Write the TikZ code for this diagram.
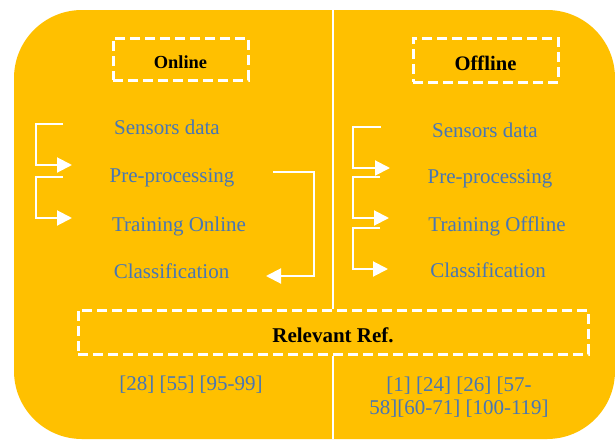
\documentclass[tikz,border=0pt]{standalone}
\usepackage{fontspec}
\setmainfont{Liberation Serif}
\usetikzlibrary{arrows.meta}
\definecolor{panel}{HTML}{FFC000}
\definecolor{txtblue}{HTML}{4876B4}
\tikzset{
  item/.style={text=txtblue, font=\fontsize{21}{24}\selectfont, inner sep=0pt, anchor=base},
  ref/.style={text=txtblue, font=\fontsize{21}{23}\selectfont, inner sep=0pt, align=center},
  dbox/.style={draw=white, line width=3pt, dash pattern=on 10pt off 5pt, text depth=0pt},
  flow/.style={draw=white, line width=2pt, -{Triangle[length=15pt,width=15pt]}},
  divider/.style={draw=white, line width=2pt},
}
\begin{document}
\begin{tikzpicture}[x=1pt,y=-1pt]
\useasboundingbox (0,0) rectangle (615,439);
\fill[panel, rounded corners=68pt] (14,10) rectangle (615,439);
% dashed boxes
\node[dbox, minimum width=135pt, minimum height=42pt, text height=18pt, font=\bfseries\fontsize{18.4}{20}\selectfont] (online) at (180.5,59) {Online};
\node[dbox, minimum width=145pt, minimum height=44pt, text height=20pt, font=\bfseries\fontsize{20.6}{22}\selectfont] (offline) at (485.5,60) {Offline};
\node[dbox, minimum width=510pt, minimum height=44pt, text height=20pt, font=\bfseries\fontsize{21}{23}\selectfont] (rel) at (333,332) {Relevant Ref.};
% divider
\coordinate (dtop) at (333,10);
\coordinate (dbot) at (333,439);
\draw[divider] (dtop) -- (dtop |- rel.north);
\draw[divider] (dtop |- rel.south) -- (dbot);
% left items
\node[item] (ls) at (167,134) {Sensors data};
\node[item] (lp) at (172,182) {Pre-processing};
\node[item] (lt) at (179,231) {Training Online};
\node[item] (lc) at (171.5,278) {Classification};
% right items
\node[item] (rs) at (485,137) {Sensors data};
\node[item] (rp) at (490,183) {Pre-processing};
\node[item] (rt) at (497,231) {Training Offline};
\node[item] (rc) at (488,277) {Classification};
% refs
\node[ref, anchor=base] (lref) at (191,390) {[28] [55] [95-99]};
\node[ref] (rref) at (459,397) {[1] [24] [26] [57-\\58][60-71] [100-119]};
% left arrows
\coordinate (la1s) at (63,124);  \coordinate (la1e) at (72,165);
\coordinate (la2s) at (63,177);  \coordinate (la2e) at (72,218);
\coordinate (la3s) at (273,172); \coordinate (la3e) at (266,276);
\draw[flow] (la1s) -- ++(-27,0) |- (la1e);
\draw[flow] (la2s) -- ++(-27,0) |- (la2e);
\draw[flow] (la3s) -- ++(41,0) |- (la3e);
% right arrows
\coordinate (ra1s) at (381,127); \coordinate (ra1e) at (390,168);
\coordinate (ra2s) at (380,177); \coordinate (ra2e) at (389,218);
\coordinate (ra3s) at (380,228); \coordinate (ra3e) at (388,269);
\draw[flow] (ra1s) -- ++(-28,0) |- (ra1e);
\draw[flow] (ra2s) -- ++(-27,0) |- (ra2e);
\draw[flow] (ra3s) -- ++(-27,0) |- (ra3e);
\end{tikzpicture}
\end{document}
